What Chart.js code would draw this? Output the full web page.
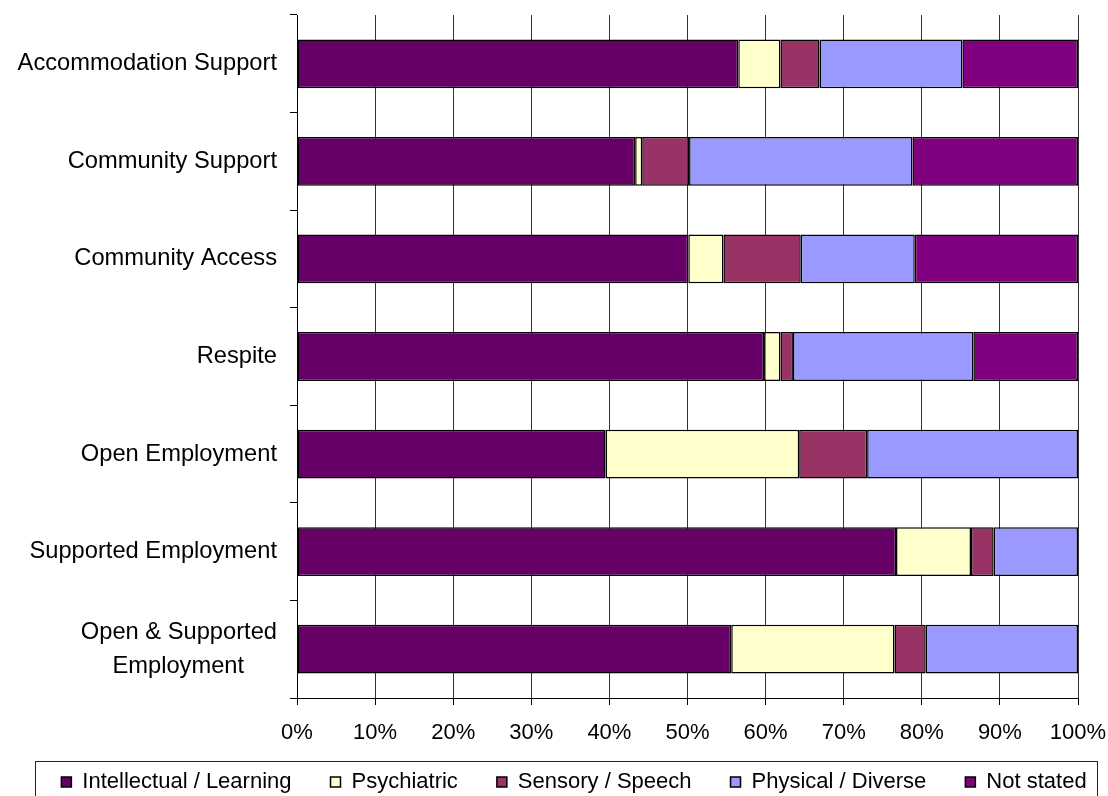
<!DOCTYPE html>
<html>
<head>
<meta charset="utf-8">
<script src="https://cdn.jsdelivr.net/npm/chart.js@4"></script>
<style>
  html, body { margin: 0; padding: 0; background: #fff; }
  #wrap { width: 1108px; height: 796px; }
</style>
</head>
<body>
<div id="wrap"><canvas id="serviceChart" width="1108" height="796"></canvas></div>
<script>
// service types, top to bottom
const categories = [
    'Accommodation Support',
    'Community Support',
    'Community Access',
    'Respite',
    'Open Employment',
    'Supported Employment',
    ['Open & Supported', 'Employment     ']
];

// share of service users by primary disability group (%)
const intellectual = [56.5, 43.3, 50.1, 59.8, 39.5, 76.7, 55.6];
const psychiatric  = [5.4, 0.9, 4.5, 2.1, 24.8, 9.6, 20.9];
const sensory      = [5.0, 6.0, 9.9, 1.6, 8.7, 2.9, 4.0];
const physical     = [18.3, 28.6, 14.6, 23.1, 27.0, 10.8, 19.5];
const notStated    = [14.8, 21.2, 20.9, 13.4, 0, 0, 0];

const xTicks = [0, 10, 20, 30, 40, 50, 60, 70, 80, 90, 100];

const FONT = "'Liberation Sans', Arial, sans-serif";

// legend frame + some position fixes after layout
const legendFrame = {
    id: 'legendFrame',
    afterLayout(chart) {
        const lg = chart.legend;
        const h = lg.bottom - lg.top;
        // widen the legend box a bit to the right so the row is centred like the original
        lg.left = 0;
        lg.right = chart.width + 40;
        lg.top = 732;
        lg.bottom = 732 + h;
        // let the x tick labels draw below the (squeezed) axis box
        const xs = chart.scales.x;
        xs.bottom = 760;
        xs.height = xs.bottom - xs.top;
    },
    afterDraw(chart) {
        const ctx = chart.ctx;
        ctx.save();
        ctx.strokeStyle = '#222';
        ctx.lineWidth = 1;
        ctx.strokeRect(35.5, 761.5, 1062, 40);
        ctx.restore();
    }
};

const makeSet = (label, data, color) => ({
    label: label,
    data: data,
    backgroundColor: color,
    borderColor: '#000',
    borderWidth: 1.5,
    borderSkipped: false,
    categoryPercentage: 1,
    barPercentage: 0.5
});

const ctx = document.getElementById('serviceChart').getContext('2d');
const chart = new Chart(ctx, {
    type: 'bar',
    data: {
        labels: categories,
        datasets: [
            makeSet('Intellectual / Learning', intellectual, '#660066'),
            makeSet('Psychiatric', psychiatric, '#FFFFCC'),
            makeSet('Sensory / Speech', sensory, '#993366'),
            makeSet('Physical / Diverse', physical, '#9999FF'),
            makeSet('Not stated', notStated, '#800080')
        ]
    },
    options: {
        indexAxis: 'y',
        responsive: false,
        animation: false,
        events: [],
        layout: {
            padding: 0
        },
        scales: {
            x: {
                stacked: true,
                min: 0,
                max: 100,
                afterBuildTicks: (scale) => {
                    scale.ticks = xTicks.map(v => ({ value: v }));
                },
                afterFit: (scale) => {
                    scale.height = 27;
                    scale.paddingLeft = 0;
                    scale.paddingRight = 30;
                },
                grid: {
                    color: '#333',
                    lineWidth: 1,
                    tickLength: 7,
                    tickColor: '#000'
                },
                border: { display: true, color: '#000', width: 1 },
                ticks: {
                    color: '#000',
                    padding: 15,
                    maxRotation: 0,
                    font: { family: FONT, size: 22 },
                    callback: (v) => v + '%'
                }
            },
            y: {
                stacked: true,
                afterFit: (scale) => {
                    scale.width = 297;
                    scale.paddingTop = 15;
                    scale.paddingBottom = 0;
                },
                grid: {
                    offset: true,
                    drawOnChartArea: false,
                    tickLength: 7,
                    color: '#000'
                },
                border: { display: true, color: '#000', width: 1 },
                ticks: {
                    color: '#000',
                    padding: 13,
                    font: { family: FONT, size: 23.7, lineHeight: 1.43 }
                }
            }
        },
        plugins: {
            legend: {
                display: true,
                position: 'bottom',
                labels: {
                    color: '#000',
                    boxWidth: 10,
                    boxHeight: 10,
                    padding: 39,
                    font: { family: FONT, size: 22 }
                }
            },
            tooltip: { enabled: false }
        }
    },
    plugins: [legendFrame]
});
</script>
</body>
</html>
